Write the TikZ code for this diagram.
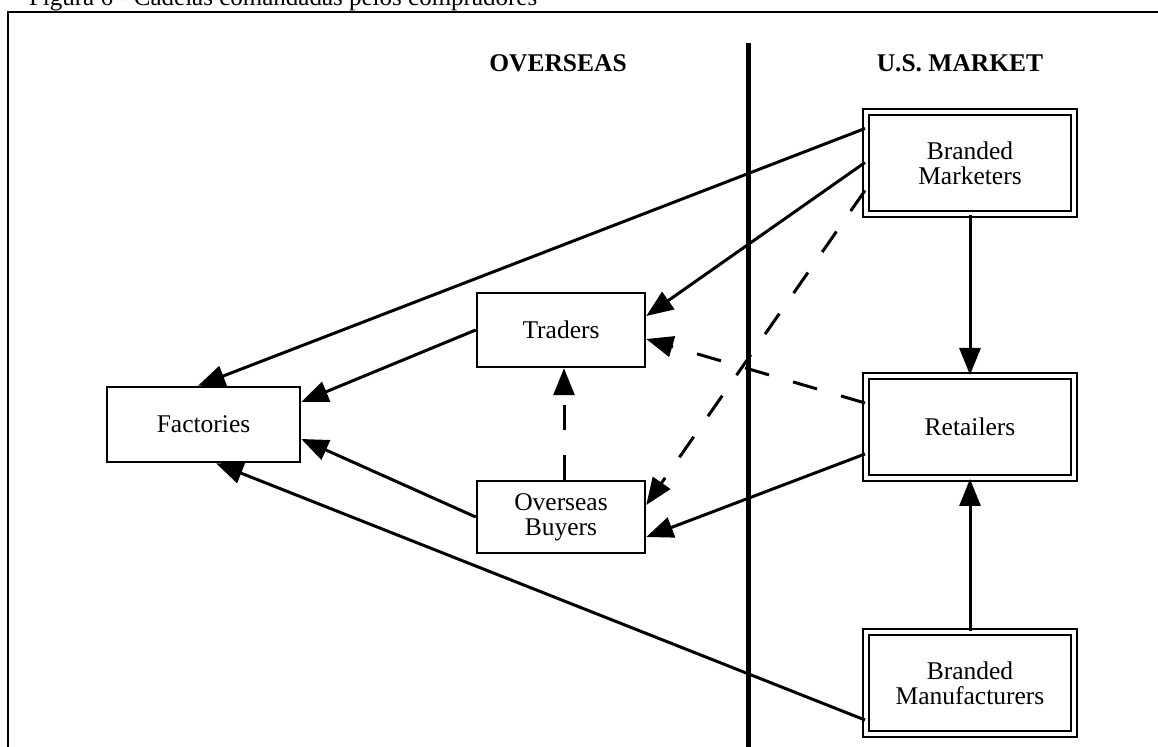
\documentclass[tikz,border=0pt]{standalone}
\usepackage{fontspec}
\setmainfont{Liberation Serif}
\usetikzlibrary{arrows.meta,calc}
\begin{document}
\begin{tikzpicture}[x=0.5pt,y=-0.5pt,
  txt/.style={font=\fontsize{12.75pt}{12.5pt}\selectfont},
  box/.style={txt,draw,line width=1.25pt,inner sep=0pt,align=center},
  dbox/.style={txt,draw,double,line width=1pt,double distance=2pt,inner sep=0pt,align=center,
    minimum width=104pt,minimum height=51pt},
  link/.style={line width=1.5pt,-{Triangle[length=13.5pt,width=10.5pt]}},
  dlink/.style={link,dash pattern=on 12.5pt off 12.5pt},
  head/.style={font=\bfseries\fontsize{12.75pt}{15pt}\selectfont,anchor=base}
]
\useasboundingbox (0,0) rectangle (1158,747);

% caption and outer frame
\node[anchor=base west,font=\fontsize{12.5pt}{15pt}\selectfont] (cap) at (22,6)
  {Figura 6 - Cadeias comandadas pelos compradores};
\draw[line width=1pt] (8,12) rectangle (1200,800);

% column headings and the dividing line
\node[head] (hov) at (558,72) {OVERSEAS};
\node[head] (hus) at (960,72) {U.S. MARKET};
\coordinate (dtop) at (748,43);
\coordinate (dbot) at (748,800);
\draw[line width=2.5pt] (dtop) -- (dbot);

% overseas side
\node[box,minimum width=96.5pt,minimum height=37.5pt] (fac) at (203.5,424.5) {Factories};
\node[box,minimum width=84pt,minimum height=37pt] (tr) at (561,330) {Traders};
\node[box,minimum width=84pt,minimum height=36pt] (ob) at (561,517) {Overseas\\Buyers};

% U.S. side
\node[dbox] (bm) at (970,163.5) {Branded\\Marketers};
\node[dbox] (ret) at (970,427) {Retailers};
\node[dbox] (bman) at (970,683) {Branded\\Manufacturers};

% solid flows
\draw[link] ([yshift=17.5pt]bm.west) -- ([xshift=-2.75pt]fac.north);
\draw[link] ([yshift=0.5pt]bm.west) -- ([yshift=7pt]tr.east);
\draw[link] (bm.south) -- (ret.north);
\draw[link] ([yshift=-13.5pt]ret.west) -- ([yshift=-10pt]ob.east);
\draw[link] (bman.north) -- (ret.south);
\draw[link] ([yshift=-18.5pt]bman.west) -- ([xshift=6.25pt]fac.south);
\draw[link] (tr.west) -- ([yshift=11.25pt]fac.east);
\draw[link] (ob.west) -- ([yshift=-7.25pt]fac.east);

% dashed flows
\draw[dlink] ([yshift=-13.5pt]bm.west) -- ([yshift=6pt]ob.east);
\draw[dlink] ([yshift=12pt]ret.west) -- ([yshift=-4.5pt]tr.east);
\draw[dlink] ([xshift=1.5pt]ob.north) -- ([xshift=1.5pt]tr.south);
\end{tikzpicture}
\end{document}
